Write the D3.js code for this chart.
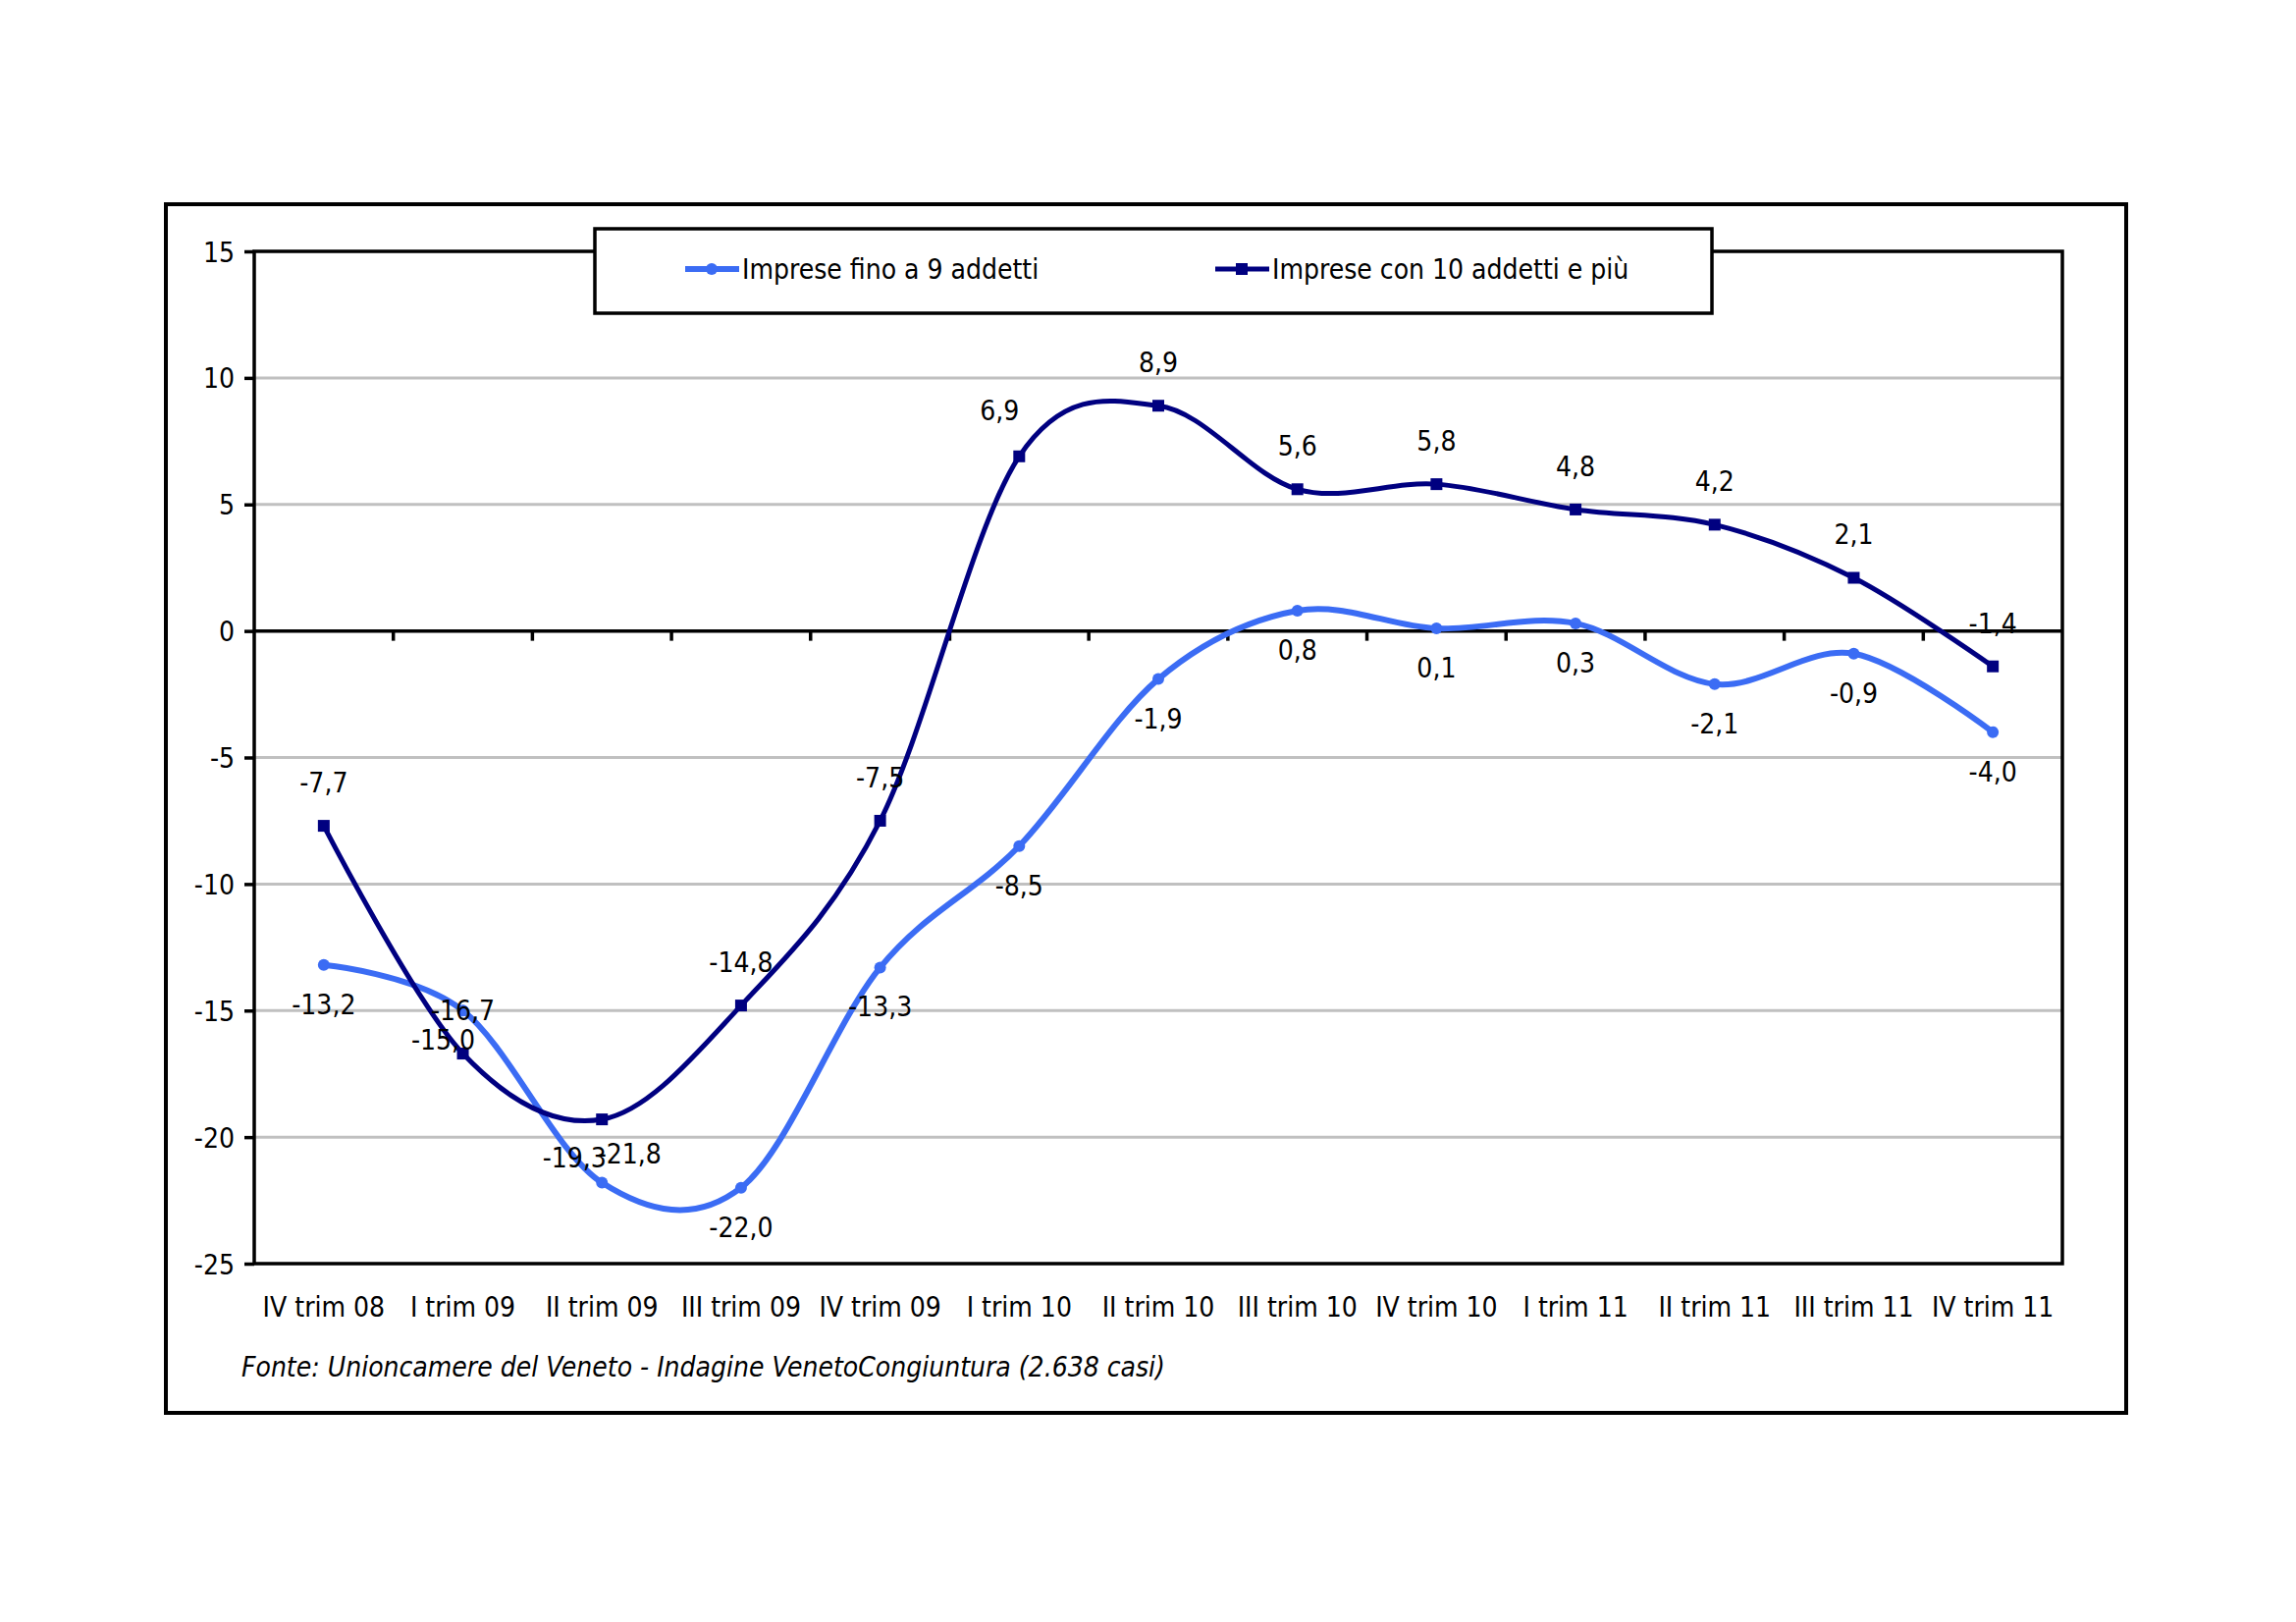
<!DOCTYPE html>
<html lang="it">
<head>
  <meta charset="UTF-8">
  <title>Imprese fino a 9 addetti / con 10 addetti e più</title>
  <script src="https://d3js.org/d3.v7.min.js"></script>
  <style>
    body { margin: 0; background: #fff; }
    text {
      font-family: "DejaVu Sans Condensed", "DejaVu Sans", sans-serif;
      font-stretch: condensed;
      fill: #000;
    }
    .grid line { stroke: #c0c0c0; stroke-width: 3px; }
    .tick-lbl { font-size: 28px; }
    .val-lbl { font-size: 28px; }
  </style>
</head>
<body>
  <svg width="2339" height="1652"></svg>
  <script>
    const categories = ["IV trim 08", "I trim 09", "II trim 09", "III trim 09", "IV trim 09",
      "I trim 10", "II trim 10", "III trim 10", "IV trim 10", "I trim 11",
      "II trim 11", "III trim 11", "IV trim 11"];
    const small = [-13.2, -15.0, -21.8, -22.0, -13.3, -8.5, -1.9, 0.8, 0.1, 0.3, -2.1, -0.9, -4.0];
    const large = [-7.7, -16.7, -19.3, -14.8, -7.5, 6.9, 8.9, 5.6, 5.8, 4.8, 4.2, 2.1, -1.4];
    const yTicks = [15, 10, 5, 0, -5, -10, -15, -20, -25];
    const seriesNames = ["Imprese fino a 9 addetti", "Imprese con 10 addetti e più"];

    // label nudges where Excel moved labels to avoid overlaps (index -> [dx, dy])
    const smallNudge = { 1: [-20, -10], 2: [28, -70] };
    const largeNudge = { 2: [-28, 83], 5: [-20, -3] };

    const svg = d3.select("svg");
    const colSmall = "#3b6cf4", colLarge = "#000080";

    // outer frame
    svg.append("rect").attr("x", 169).attr("y", 208).attr("width", 1997).attr("height", 1231)
      .attr("fill", "none").attr("stroke", "#000").attr("stroke-width", 4);

    const pLeft = 259, pRight = 2101, pTop = 256, pBottom = 1287;
    const x = d3.scaleBand().domain(categories).range([pLeft, pRight]);
    const y = d3.scaleLinear().domain([-25, 15]).range([pBottom, pTop]);
    const cx = d => x(d) + x.bandwidth() / 2;

    // gridlines
    svg.append("g").attr("class", "grid").selectAll("line")
      .data(yTicks.filter(v => v !== 0 && v !== 15 && v !== -25))
      .join("line")
      .attr("x1", pLeft).attr("x2", pRight)
      .attr("y1", d => y(d)).attr("y2", d => y(d));

    // plot border
    svg.append("rect").attr("x", pLeft).attr("y", pTop).attr("width", pRight - pLeft).attr("height", pBottom - pTop)
      .attr("fill", "none").attr("stroke", "#000").attr("stroke-width", 3.5);

    // y axis
    const yAxis = d3.axisLeft(y).tickValues(yTicks).tickSize(10).tickPadding(10)
      .tickFormat(d => d);
    const gy = svg.append("g").attr("transform", `translate(${pLeft},0)`).call(yAxis);
    gy.select(".domain").remove();
    gy.selectAll(".tick line").attr("stroke", "#000").attr("stroke-width", 3.5);
    gy.selectAll(".tick text").attr("class", "tick-lbl").attr("dy", "0.36em")
      .attr("font-family", null).attr("font-size", null);
    gy.attr("font-family", null).attr("font-size", null);

    // zero line with category ticks
    svg.append("line").attr("x1", pLeft).attr("x2", pRight).attr("y1", y(0)).attr("y2", y(0))
      .attr("stroke", "#000").attr("stroke-width", 3.5);
    svg.append("g").selectAll("line").data(categories.slice(1)).join("line")
      .attr("x1", d => x(d)).attr("x2", d => x(d))
      .attr("y1", y(0)).attr("y2", y(0) + 10)
      .attr("stroke", "#000").attr("stroke-width", 3.5);

    // category labels
    svg.append("g").selectAll("text").data(categories).join("text")
      .attr("class", "tick-lbl")
      .attr("x", d => cx(d)).attr("y", pBottom + 54)
      .attr("text-anchor", "middle").text(d => d);

    const line = d3.line().x((d, i) => cx(categories[i])).y(d => y(d))
      .curve(d3.curveCardinal.tension(0));

    // series
    svg.append("path").datum(small).attr("d", line).attr("fill", "none")
      .attr("stroke", colSmall).attr("stroke-width", 6);
    svg.append("path").datum(large).attr("d", line).attr("fill", "none")
      .attr("stroke", colLarge).attr("stroke-width", 5);

    svg.append("g").selectAll("circle").data(small).join("circle")
      .attr("cx", (d, i) => cx(categories[i])).attr("cy", d => y(d)).attr("r", 6)
      .attr("fill", colSmall);
    svg.append("g").selectAll("rect").data(large).join("rect")
      .attr("x", (d, i) => cx(categories[i]) - 6).attr("y", d => y(d) - 6)
      .attr("width", 12).attr("height", 12).attr("fill", colLarge);

    const fmt = v => v.toFixed(1).replace(".", ",");

    svg.append("g").selectAll("text").data(small).join("text")
      .attr("class", "val-lbl").attr("text-anchor", "middle")
      .attr("x", (d, i) => cx(categories[i]) + (smallNudge[i] ? smallNudge[i][0] : 0))
      .attr("y", (d, i) => y(d) + 50 + (smallNudge[i] ? smallNudge[i][1] : 0))
      .text(fmt);
    svg.append("g").selectAll("text").data(large).join("text")
      .attr("class", "val-lbl").attr("text-anchor", "middle")
      .attr("x", (d, i) => cx(categories[i]) + (largeNudge[i] ? largeNudge[i][0] : 0))
      .attr("y", (d, i) => y(d) - 34 + (largeNudge[i] ? largeNudge[i][1] : 0))
      .text(fmt);

    // legend
    const lg = svg.append("g");
    lg.append("rect").attr("x", 606).attr("y", 233).attr("width", 1138).attr("height", 86)
      .attr("fill", "#fff").attr("stroke", "#000").attr("stroke-width", 3.5);
    const legendItems = [
      { name: seriesNames[0], color: colSmall, x0: 698, shape: "circle" },
      { name: seriesNames[1], color: colLarge, x0: 1238, shape: "square" }
    ];
    legendItems.forEach(it => {
      lg.append("line").attr("x1", it.x0).attr("x2", it.x0 + 55).attr("y1", 274).attr("y2", 274)
        .attr("stroke", it.color).attr("stroke-width", it.shape === "circle" ? 6 : 5);
      if (it.shape === "circle") {
        lg.append("circle").attr("cx", it.x0 + 27).attr("cy", 274).attr("r", 6).attr("fill", it.color);
      } else {
        lg.append("rect").attr("x", it.x0 + 21).attr("y", 268).attr("width", 12).attr("height", 12).attr("fill", it.color);
      }
      lg.append("text").attr("class", "tick-lbl").attr("x", it.x0 + 58).attr("y", 284).text(it.name);
    });

    // source note
    svg.append("text").attr("x", 246).attr("y", 1402)
      .style("font-style", "italic").style("font-size", "28px")
      .text("Fonte: Unioncamere del Veneto - Indagine VenetoCongiuntura (2.638 casi)");
  </script>
</body>
</html>
